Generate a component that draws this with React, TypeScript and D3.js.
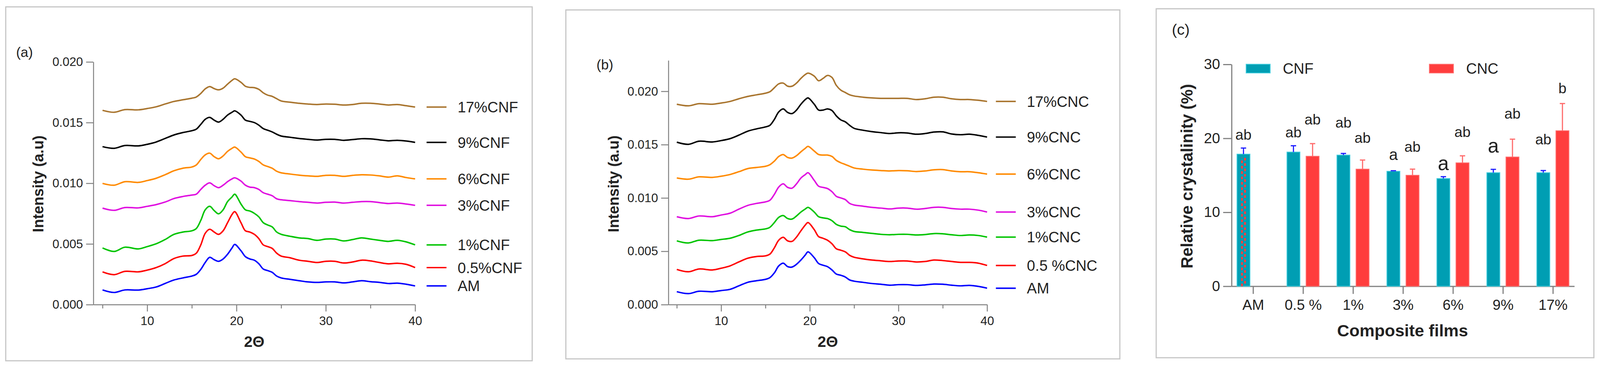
import React, { useEffect, useRef } from 'react';
import * as d3 from 'd3';

const twoTheta = [
  5, 6.3, 7.5, 9, 10, 11, 12, 13, 14, 15, 15.5, 16, 16.5, 17, 17.5, 18, 18.5, 19, 19.5, 19.8,
  20.5, 21, 21.5, 22, 22.5, 23, 23.5, 24, 24.5, 25, 26, 27, 28, 29, 30, 31, 32, 33, 34, 35, 36,
  37, 38, 39, 40,
];

// intensities in units of 0.001 a.u.
const cnfAM = [1.21, 1.0, 1.21, 1.2, 1.31, 1.45, 1.74, 2.03, 2.2, 2.35, 2.5, 2.9, 3.47, 3.9, 3.7, 3.57, 3.76, 4.15, 4.67, 4.96, 4.44, 3.95, 3.76, 3.66, 3.37, 2.93, 2.8, 2.66, 2.35, 2.2, 2.08, 1.97, 1.87, 1.83, 1.87, 1.87, 1.79, 1.87, 1.97, 1.89, 1.83, 1.74, 1.77, 1.68, 1.54];
const cnf05 = [2.7, 2.47, 2.74, 2.7, 2.84, 3.05, 3.37, 3.8, 4.0, 4.05, 4.24, 4.92, 5.88, 6.21, 5.98, 5.79, 6.08, 6.75, 7.43, 7.66, 6.75, 6.08, 5.98, 5.79, 5.44, 4.92, 4.78, 4.63, 4.24, 4.0, 3.86, 3.66, 3.57, 3.47, 3.57, 3.57, 3.43, 3.51, 3.66, 3.6, 3.47, 3.36, 3.41, 3.32, 3.05];
const cnf1 = [4.67, 4.38, 4.73, 4.59, 4.78, 5.01, 5.36, 5.79, 5.98, 6.08, 6.27, 6.94, 7.81, 8.1, 7.75, 7.48, 7.81, 8.49, 8.87, 9.1, 8.29, 7.81, 7.71, 7.52, 7.23, 6.75, 6.56, 6.4, 5.98, 5.79, 5.63, 5.5, 5.44, 5.3, 5.4, 5.4, 5.25, 5.36, 5.5, 5.4, 5.3, 5.21, 5.3, 5.17, 4.92];
const cnf3 = [7.95, 7.77, 8.0, 7.97, 8.1, 8.24, 8.45, 8.74, 8.91, 9.03, 9.1, 9.49, 9.84, 10.03, 9.8, 9.64, 9.84, 10.13, 10.36, 10.45, 10.18, 9.84, 9.68, 9.64, 9.49, 9.22, 9.1, 8.97, 8.72, 8.64, 8.57, 8.49, 8.43, 8.37, 8.43, 8.45, 8.37, 8.43, 8.49, 8.49, 8.41, 8.33, 8.37, 8.29, 8.18];
const cnf6 = [9.99, 9.84, 10.13, 10.07, 10.22, 10.41, 10.7, 11.03, 11.24, 11.34, 11.51, 11.96, 12.34, 12.48, 12.19, 12.02, 12.25, 12.63, 12.88, 12.98, 12.57, 12.19, 12.09, 12.0, 11.8, 11.51, 11.38, 11.24, 10.99, 10.86, 10.76, 10.67, 10.61, 10.57, 10.65, 10.65, 10.57, 10.65, 10.7, 10.68, 10.61, 10.51, 10.61, 10.47, 10.36];
const cnf9 = [13.02, 12.88, 13.11, 13.08, 13.21, 13.4, 13.69, 13.98, 14.18, 14.33, 14.46, 14.85, 15.27, 15.43, 15.2, 15.04, 15.27, 15.62, 15.85, 15.97, 15.62, 15.2, 15.1, 15.0, 14.79, 14.5, 14.37, 14.23, 14.04, 13.89, 13.79, 13.69, 13.62, 13.56, 13.62, 13.62, 13.54, 13.6, 13.67, 13.66, 13.58, 13.5, 13.54, 13.48, 13.37];
const cnf17 = [16.01, 15.85, 16.07, 16.05, 16.16, 16.3, 16.53, 16.74, 16.88, 17.01, 17.11, 17.4, 17.78, 17.97, 17.8, 17.7, 17.84, 18.17, 18.48, 18.61, 18.32, 17.99, 17.9, 17.88, 17.74, 17.45, 17.26, 17.16, 16.97, 16.78, 16.68, 16.59, 16.53, 16.49, 16.53, 16.51, 16.45, 16.49, 16.59, 16.59, 16.53, 16.45, 16.49, 16.39, 16.28];

const cncAM = [1.21, 1.03, 1.25, 1.21, 1.32, 1.43, 1.76, 2.09, 2.24, 2.37, 2.53, 2.97, 3.63, 3.89, 3.56, 3.52, 3.78, 4.18, 4.66, 4.95, 4.4, 3.85, 3.69, 3.56, 3.25, 2.86, 2.75, 2.59, 2.31, 2.2, 2.09, 1.98, 1.91, 1.82, 1.87, 1.87, 1.8, 1.85, 1.93, 1.91, 1.82, 1.76, 1.8, 1.71, 1.54];
const cnc05 = [3.3, 3.08, 3.34, 3.25, 3.41, 3.63, 4.0, 4.35, 4.51, 4.57, 4.73, 5.32, 6.04, 6.31, 5.98, 5.93, 6.33, 6.92, 7.47, 7.69, 7.03, 6.37, 6.22, 6.04, 5.71, 5.23, 5.1, 4.95, 4.62, 4.44, 4.29, 4.18, 4.11, 4.04, 4.09, 4.09, 4.0, 4.04, 4.18, 4.13, 4.04, 3.96, 3.96, 3.89, 3.67];
const cnc1 = [5.98, 5.78, 6.04, 6.0, 6.11, 6.22, 6.48, 6.81, 6.99, 7.1, 7.25, 7.69, 8.18, 8.35, 8.07, 8.02, 8.31, 8.68, 8.97, 9.12, 8.68, 8.24, 8.13, 8.07, 7.87, 7.52, 7.36, 7.3, 7.03, 6.86, 6.77, 6.68, 6.59, 6.55, 6.59, 6.59, 6.53, 6.57, 6.66, 6.64, 6.55, 6.48, 6.53, 6.48, 6.33];
const cnc3 = [8.24, 8.07, 8.31, 8.24, 8.4, 8.57, 8.95, 9.3, 9.49, 9.63, 9.78, 10.33, 11.03, 11.32, 10.99, 10.92, 11.32, 11.87, 12.2, 12.37, 11.65, 11.1, 10.99, 10.88, 10.59, 10.15, 10.0, 9.85, 9.49, 9.34, 9.23, 9.12, 9.05, 8.97, 9.05, 9.05, 8.95, 9.01, 9.12, 9.12, 9.01, 8.95, 8.95, 8.86, 8.68];
const cnc6 = [11.87, 11.76, 11.98, 11.93, 12.04, 12.2, 12.46, 12.75, 12.86, 12.97, 13.12, 13.45, 13.89, 14.07, 13.8, 13.74, 13.96, 14.33, 14.66, 14.84, 14.4, 14.07, 14.02, 14.02, 13.89, 13.52, 13.3, 13.14, 12.97, 12.81, 12.7, 12.62, 12.57, 12.53, 12.57, 12.55, 12.48, 12.53, 12.64, 12.66, 12.53, 12.46, 12.46, 12.37, 12.24];
const cnc9 = [15.23, 15.03, 15.32, 15.25, 15.38, 15.56, 15.89, 16.26, 16.48, 16.66, 16.81, 17.36, 18.07, 18.35, 18.02, 17.91, 18.24, 18.79, 19.23, 19.38, 18.79, 18.24, 18.24, 18.35, 18.2, 17.69, 17.32, 17.14, 16.81, 16.53, 16.35, 16.22, 16.13, 16.04, 16.11, 16.09, 15.98, 16.04, 16.18, 16.2, 16.0, 15.93, 15.98, 15.87, 15.71];
const cnc17 = [18.79, 18.64, 18.84, 18.79, 18.9, 19.05, 19.3, 19.52, 19.67, 19.82, 19.96, 20.33, 20.7, 20.77, 20.48, 20.48, 20.77, 21.21, 21.58, 21.71, 21.43, 20.99, 21.21, 21.49, 21.3, 20.55, 20.11, 19.89, 19.67, 19.56, 19.45, 19.38, 19.34, 19.34, 19.34, 19.34, 19.23, 19.3, 19.45, 19.45, 19.3, 19.23, 19.23, 19.16, 19.05];

const cnfNames = ['17%CNF', '9%CNF', '6%CNF', '3%CNF', '1%CNF', '0.5%CNF', 'AM'];
const cncNames = ['17%CNC', '9%CNC', '6%CNC', '3%CNC', '1%CNC', '0.5 %CNC', 'AM'];
const traceColors = ['#a9752f', '#000000', '#ff8a00', '#e010e0', '#00c400', '#ff0000', '#0000ff'];

// relative crystallinity bar chart
const films = ['AM', '0.5 %', '1%', '3%', '6%', '9%', '17%'];
const cnfMean = [17.87, 18.15, 17.74, 15.55, 14.57, 15.36, 15.36];
const cnfSd = [0.82, 0.85, 0.22, 0.07, 0.25, 0.45, 0.29];
const cncMean = [NaN, 17.58, 15.84, 15.01, 16.69, 17.48, 21.03];
const cncSd = [NaN, 1.71, 1.23, 0.83, 0.95, 2.41, 3.68];
const amCncMark = 17.4;
const cnfLetters = ['ab', 'ab', 'ab', 'a', 'a', 'a', 'ab'];
const cncLetters = ['', 'ab', 'ab', 'ab', 'ab', 'ab', 'b'];
const cnfLetterAt = [20.5, 20.86, 22.15, 17.65, 16.4, 18.8, 19.9];
const cncLetterAt = [NaN, 22.6, 20.1, 18.9, 20.9, 23.4, 26.8];

const W = 4182;
const H = 961;
const FONT = '"Liberation Sans", Arial, sans-serif';
const TXT = '#222';
const AXIS = '#808080';
const CNF_FILL = '#009eb3';
const CNC_FILL = '#ff3d3d';

interface XrdPanel {
  box: [number, number, number, number];
  tag: string;
  tagX: number;
  tagY: number;
  axisX: number;
  x5: number;
  x40: number;
  y0: number;
  yTopPx: number;
  yTopVal: number;
  labelX: number;
  traces: number[][];
  names: string[];
  legendDx: number;
}

const drawXrd = (svg: d3.Selection<SVGSVGElement, unknown, null, undefined>, p: XrdPanel) => {
  const g = svg.append('g');
  g.append('rect')
    .attr('x', p.box[0]).attr('y', p.box[1])
    .attr('width', p.box[2] - p.box[0]).attr('height', p.box[3] - p.box[1])
    .attr('fill', 'none').attr('stroke', '#c6c6c6').attr('stroke-width', 3);

  const x = d3.scaleLinear().domain([5, 40]).range([p.x5, p.x40]);
  const xa = d3.scaleLinear().domain([x.invert(p.axisX), 40]).range([p.axisX, p.x40]);
  const y = d3.scaleLinear().domain([0, p.yTopVal]).range([p.y0, p.yTopPx]);

  // x axis: major ticks with labels, minor ticks between
  const gx = g.append('g').attr('transform', `translate(0,${p.y0})`);
  gx.call(d3.axisBottom(xa).tickValues([10, 20, 30, 40]).tickSize(18).tickSizeOuter(0).tickPadding(13).tickFormat(d3.format('d')));
  gx.append('g').call(d3.axisBottom(xa).tickValues([5, 15, 25, 35]).tickSize(10).tickFormat(() => ''))
    .select('.domain').remove();

  const gy = g.append('g').attr('transform', `translate(${p.axisX},0)`);
  gy.call(d3.axisLeft(y).tickValues([0, 5, 10, 15, 20]).tickSize(19).tickSizeOuter(0).tickPadding(8)
    .tickFormat((d) => (+d / 1000).toFixed(3)));

  [gx, gy].forEach((a) => {
    a.selectAll('.domain, line').attr('stroke', AXIS).attr('stroke-width', 2.5);
    a.selectAll('text').attr('fill', TXT).attr('font-size', 32).attr('font-family', FONT);
  });

  const line = d3.line<number>()
    .x((_, i) => x(twoTheta[i]))
    .y((d) => y(d))
    .curve(d3.curveCatmullRom.alpha(0.5));

  p.traces.forEach((tr, i) => {
    g.append('path').attr('d', line(tr) as string)
      .attr('fill', 'none').attr('stroke', traceColors[i]).attr('stroke-width', 3.8)
      .attr('stroke-linejoin', 'round');
    const ly = y(tr[tr.length - 1]);
    g.append('line')
      .attr('x1', p.x40 + p.legendDx).attr('x2', p.x40 + p.legendDx + 52)
      .attr('y1', ly).attr('y2', ly)
      .attr('stroke', traceColors[i]).attr('stroke-width', 3.8);
    g.append('text').text(p.names[i])
      .attr('x', p.x40 + p.legendDx + 81).attr('y', ly).attr('dy', '0.36em')
      .attr('font-size', 39).attr('font-family', FONT).attr('fill', TXT);
  });

  g.append('text').text(p.tag).attr('x', p.tagX).attr('y', p.tagY)
    .attr('font-size', 36).attr('font-family', FONT).attr('fill', TXT);

  g.append('text').text('Intensity (a.u)')
    .attr('transform', `translate(${p.labelX},481) rotate(-90)`)
    .attr('text-anchor', 'middle').attr('dy', '0.36em')
    .attr('font-size', 39).attr('font-weight', 'bold').attr('font-family', FONT).attr('fill', TXT);

  g.append('text').text('2Θ')
    .attr('x', (p.axisX + p.x40) / 2).attr('y', 908)
    .attr('text-anchor', 'middle')
    .attr('font-size', 40).attr('font-weight', 'bold').attr('font-family', FONT).attr('fill', TXT);
};

const drawBars = (svg: d3.Selection<SVGSVGElement, unknown, null, undefined>) => {
  const g = svg.append('g');
  g.append('rect').attr('x', 3022).attr('y', 23).attr('width', 4166 - 3022).attr('height', 936 - 23)
    .attr('fill', 'none').attr('stroke', '#c6c6c6').attr('stroke-width', 3);

  const left = 3219;
  const right = 4115;
  const y0 = 749;
  const x = d3.scalePoint<string>().domain(films).range([left, right]).padding(0.43);
  const sub = d3.scaleBand<string>().domain(['CNF', 'CNC']).range([-42, 42]).paddingInner(0.32);
  const y = d3.scaleLinear().domain([0, 30]).range([y0, 168.5]);

  const gx = g.append('g').attr('transform', `translate(0,${y0})`);
  gx.call(d3.axisBottom(x).tickSize(20).tickSizeOuter(0).tickPadding(15));
  const gy = g.append('g').attr('transform', `translate(${left},0)`);
  gy.call(d3.axisLeft(y).tickValues([0, 10, 20, 30]).tickSize(22).tickSizeOuter(0).tickPadding(8));
  [gx, gy].forEach((a) => {
    a.selectAll('.domain, line').attr('stroke', AXIS).attr('stroke-width', 3);
    a.selectAll('text').attr('fill', TXT).attr('font-size', 38).attr('font-family', FONT);
  });

  const bw = sub.bandwidth();
  const drawGroup = (key: 'CNF' | 'CNC', mean: number[], sd: number[], fill: string, edge: string, err: string) => {
    films.forEach((f, i) => {
      if (!Number.isFinite(mean[i])) return;
      const bx = (x(f) as number) + (sub(key) as number);
      g.append('rect').attr('x', bx).attr('y', y(mean[i])).attr('width', bw).attr('height', y0 - y(mean[i]))
        .attr('fill', fill).attr('stroke', edge).attr('stroke-width', 2);
      const cx = bx + bw / 2;
      const top = y(mean[i] + sd[i]);
      g.append('line').attr('x1', cx).attr('x2', cx).attr('y1', y(mean[i])).attr('y2', top)
        .attr('stroke', err).attr('stroke-width', 3);
      g.append('line').attr('x1', cx - 7).attr('x2', cx + 7).attr('y1', top).attr('y2', top)
        .attr('stroke', err).attr('stroke-width', 3);
    });
  };
  drawGroup('CNF', cnfMean, cnfSd, CNF_FILL, '#45cfe0', '#1b1bff');
  drawGroup('CNC', cncMean, cncSd, CNC_FILL, '#ff7070', '#ff6a6a');

  // red checker mark running up the AM bar
  const amx = (x('AM') as number) + (sub('CNF') as number) + bw / 2;
  [-4, 4].forEach((dx, k) => {
    g.append('line').attr('x1', amx + dx).attr('x2', amx + dx)
      .attr('y1', y0).attr('y2', y(amCncMark))
      .attr('stroke', '#ff3b3b').attr('stroke-width', 5)
      .attr('stroke-dasharray', '7,7').attr('stroke-dashoffset', k * 7);
  });

  const letter = (txt: string, cx: number, v: number, big: boolean) => {
    if (!txt) return;
    const fs = big ? 52 : txt === 'a' ? 41 : 38;
    const lift = txt === 'a' ? 0.26 : 0.36;
    g.append('text').text(txt).attr('x', cx).attr('y', y(v) + lift * fs)
      .attr('text-anchor', 'middle').attr('font-size', fs).attr('font-family', FONT).attr('fill', TXT);
  };
  films.forEach((f, i) => {
    const c = x(f) as number;
    letter(cnfLetters[i], c + (sub('CNF') as number) + bw / 2, cnfLetterAt[i], f === '6%' || f === '9%');
    letter(cncLetters[i], c + (sub('CNC') as number) + bw / 2, cncLetterAt[i], false);
  });

  // legend
  [['CNF', CNF_FILL, '#45cfe0', 3257], ['CNC', CNC_FILL, '#ff7070', 3736]].forEach(([name, fill, edge, lx]) => {
    g.append('rect').attr('x', lx as number).attr('y', 168).attr('width', 63).attr('height', 23)
      .attr('fill', fill as string).attr('stroke', edge as string).attr('stroke-width', 2);
    g.append('text').text(name as string).attr('x', (lx as number) + 96).attr('y', 179).attr('dy', '0.36em')
      .attr('font-size', 39).attr('font-family', FONT).attr('fill', TXT);
  });

  g.append('text').text('(c)').attr('x', 3063).attr('y', 91)
    .attr('font-size', 40).attr('font-family', FONT).attr('fill', TXT);

  g.append('text').text('Relative crystalinity (%)')
    .attr('transform', 'translate(3102,461) rotate(-90)')
    .attr('text-anchor', 'middle').attr('dy', '0.36em')
    .attr('font-size', 43).attr('font-weight', 'bold').attr('font-family', FONT).attr('fill', TXT);

  g.append('text').text('Composite films').attr('x', 3666).attr('y', 880)
    .attr('text-anchor', 'middle')
    .attr('font-size', 44).attr('font-weight', 'bold').attr('font-family', FONT).attr('fill', TXT);
};

const App: React.FC = () => {
  const svgRef = useRef<SVGSVGElement>(null);

  useEffect(() => {
    if (!svgRef.current) return;
    const svg = d3.select(svgRef.current);
    svg.selectAll('*').remove();

    drawXrd(svg, {
      box: [15, 18, 1391, 944],
      tag: '(a)', tagX: 42, tagY: 149,
      axisX: 244, x5: 268, x40: 1085, y0: 797, yTopPx: 162, yTopVal: 20,
      labelX: 99,
      traces: [cnf17, cnf9, cnf6, cnf3, cnf1, cnf05, cnfAM],
      names: cnfNames,
      legendDx: 30,
    });
    drawXrd(svg, {
      box: [1479, 26, 2927, 939],
      tag: '(b)', tagX: 1559, tagY: 182,
      axisX: 1747, x5: 1769, x40: 2580, y0: 797, yTopPx: 158, yTopVal: 22.9,
      labelX: 1603,
      traces: [cnc17, cnc9, cnc6, cnc3, cnc1, cnc05, cncAM],
      names: cncNames,
      legendDx: 23,
    });
    drawBars(svg);
  }, []);

  // scale with the viewport so the whole figure is always visible
  return (
    <svg
      ref={svgRef}
      viewBox={`0 0 ${W} ${H}`}
      preserveAspectRatio="xMinYMin meet"
      style={{
        position: 'absolute',
        left: 0,
        top: 0,
        width: '100%',
        height: 'auto',
        aspectRatio: `${W} / ${H}`,
        display: 'block',
        background: '#fff',
      }}
    />
  );
};

export default App;
